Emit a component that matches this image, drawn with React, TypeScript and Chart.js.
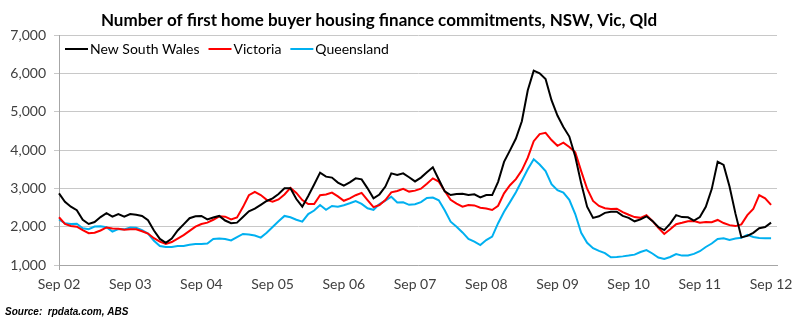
import { useEffect, useRef } from "react";
import { Chart, registerables } from "chart.js";

Chart.register(...registerables);

const chartTitle = "Number of first home buyer housing finance commitments, NSW, Vic, Qld";
const sourceNote = "Source:  rpdata.com, ABS";

const tickLabels = ["Sep 02", "Sep 03", "Sep 04", "Sep 05", "Sep 06", "Sep 07", "Sep 08", "Sep 09", "Sep 10", "Sep 11", "Sep 12"];
const monthNames = ["Jan", "Feb", "Mar", "Apr", "May", "Jun", "Jul", "Aug", "Sep", "Oct", "Nov", "Dec"];
const monthCount = 122; // Sep 02 .. Oct 12 (axis runs one month past the last value)

const seriesNames = ["New South Wales", "Victoria", "Queensland"];
const seriesColors = ["#000000", "#FF0000", "#00B0F0"];

const nsw = [
  2870, 2650, 2520, 2430, 2180, 2070, 2120, 2250, 2350, 2260, 2330, 2260,
  2330, 2310, 2280, 2170, 1900, 1680, 1580, 1690, 1900, 2060, 2220, 2270,
  2280, 2190, 2240, 2280, 2160, 2090, 2105, 2250, 2400, 2470, 2570, 2670,
  2740, 2850, 3000, 3000, 2720, 2520, 2800, 3100, 3410, 3305, 3280, 3150,
  3070, 3155, 3260, 3235, 3000, 2740, 2840, 3045, 3390, 3350, 3390, 3290,
  3180, 3280, 3420, 3550, 3230, 2920, 2825, 2850, 2860, 2825, 2845, 2765,
  2825, 2825, 3170, 3690, 3990, 4300, 4750, 5560, 6070, 6000, 5850, 5300,
  4900, 4600, 4350, 3830, 3130, 2520, 2230, 2270, 2360, 2390, 2390, 2280,
  2230, 2140, 2190, 2270, 2150, 1990, 1910, 2080, 2300, 2250, 2245, 2160,
  2250, 2520, 2980, 3695, 3610, 3045, 2340, 1720, 1760, 1840, 1960, 1990,
  2105,
];

const vic = [
  2245, 2070, 2020, 2000, 1910, 1830, 1840, 1900, 1980, 1950, 1945, 1920,
  1930, 1930, 1880, 1820, 1700, 1610, 1550, 1600, 1690, 1780, 1890, 2000,
  2070, 2105, 2180, 2270, 2260, 2190, 2240, 2510, 2820, 2910, 2825, 2700,
  2650, 2710, 2840, 3010, 2880, 2695, 2590, 2590, 2820, 2840, 2890, 2790,
  2675, 2740, 2820, 2880, 2695, 2510, 2565, 2695, 2895, 2930, 2985, 2915,
  2940, 2990, 3120, 3260, 3175, 2930, 2700, 2600, 2520, 2565, 2555, 2495,
  2475, 2435, 2545, 2870, 3080, 3240, 3470, 3800, 4230, 4415, 4450, 4260,
  4110, 4190, 4080, 3940, 3450, 2990, 2670, 2540, 2480, 2460, 2470, 2380,
  2310, 2250, 2230, 2300, 2150, 1970, 1810, 1930, 2065, 2100, 2140, 2150,
  2105, 2120, 2115, 2175, 2095, 2040, 2015, 2060, 2300, 2460, 2825, 2740,
  2570,
];

const qld = [
  2190, 2090, 2070, 2075, 1960, 1935, 2005, 2010, 1985, 1870, 1940, 1930,
  1980, 1970, 1910, 1820, 1630, 1495, 1470, 1470, 1495, 1495, 1530, 1550,
  1550, 1560, 1680, 1690, 1680, 1640, 1730, 1810, 1795, 1770, 1715, 1840,
  1990, 2140, 2280, 2245, 2180, 2130, 2330, 2420, 2565, 2440, 2540, 2520,
  2560, 2610, 2670, 2595, 2480, 2440, 2590, 2680, 2780, 2630, 2635, 2570,
  2585, 2640, 2750, 2760, 2690, 2430, 2130, 2000, 1850, 1680, 1610, 1520,
  1650, 1740, 2090, 2390, 2640, 2900, 3200, 3500, 3760, 3620, 3450, 3110,
  2950, 2890, 2700, 2330, 1840, 1580, 1440, 1370, 1310, 1200, 1210, 1225,
  1245, 1270, 1340, 1390, 1300, 1195, 1160, 1210, 1285, 1245, 1250, 1290,
  1360, 1470, 1560, 1680, 1695, 1650, 1690, 1710, 1785, 1730, 1705, 1695,
  1695,
];

const seriesValues = [nsw, vic, qld];

const FONT = "Lato, 'Open Sans', sans-serif";

function buildMonthLabels(): string[] {
  const out: string[] = [];
  for (let i = 0; i < monthCount; i++) {
    const m = (8 + i) % 12;
    const y = (2002 + Math.floor((8 + i) / 12)) % 100;
    out.push(monthNames[m] + " " + String(y).padStart(2, "0"));
  }
  return out;
}

const overlayPlugin = {
  id: "overlay",
  afterDraw(chart: any) {
    const c = chart.ctx as CanvasRenderingContext2D;
    c.save();
    c.fillStyle = "#000000";
    c.font = `bold 17px ${FONT}`;
    c.textAlign = "center";
    c.textBaseline = "alphabetic";
    c.fillText(chartTitle, 379, 26);

    c.font = `14px ${FONT}`;
    c.textAlign = "left";
    c.textBaseline = "middle";
    let x = 65;
    const y = 49;
    seriesNames.forEach((name, i) => {
      c.strokeStyle = seriesColors[i];
      c.lineWidth = 2;
      c.beginPath();
      c.moveTo(x, y);
      c.lineTo(x + 23, y);
      c.stroke();
      c.fillStyle = "#000000";
      c.fillText(name, x + 25, y);
      x += 25 + c.measureText(name).width + 9;
    });

    c.font = `italic bold 10px 'Liberation Sans', Arial, sans-serif`;
    c.textAlign = "left";
    c.textBaseline = "alphabetic";
    c.fillText(sourceNote, 5, 315);
    c.restore();
  },
};

export default function App() {
  const canvasRef = useRef<HTMLCanvasElement | null>(null);

  useEffect(() => {
    if (!canvasRef.current) return;
    const labels = buildMonthLabels();
    const chart = new Chart(canvasRef.current, {
      type: "line",
      data: {
        labels,
        datasets: seriesNames.map((name, i) => ({
          label: name,
          data: seriesValues[i],
          borderColor: seriesColors[i],
          backgroundColor: seriesColors[i],
          borderWidth: 2,
          pointRadius: 0,
          tension: 0,
          fill: false,
        })),
      },
      options: {
        responsive: false,
        animation: false,
        layout: { padding: { left: 0, right: 23, top: 35, bottom: 30 } },
        plugins: {
          legend: { display: false },
          title: { display: false },
          tooltip: { enabled: false },
        },
        scales: {
          x: {
            type: "category",
            offset: false,
            afterFit: (scale: any) => {
              scale.height = 30;
            },
            grid: {
              drawOnChartArea: false,
              drawTicks: true,
              tickLength: 5,
              color: (ctx: any) => (ctx.index % 12 === 0 ? "#a6a6a6" : "rgba(0,0,0,0)"),
            },
            border: { display: true, color: "#a6a6a6", width: 1 },
            ticks: {
              autoSkip: false,
              maxRotation: 0,
              minRotation: 0,
              padding: 6,
              color: "#404040",
              font: { family: FONT, size: 14 },
              callback: (_v: any, index: number) => (index % 12 === 0 ? tickLabels[index / 12] : null),
            },
          },
          y: {
            min: 1000,
            max: 7000,
            afterFit: (scale: any) => {
              scale.width = 59;
            },
            grid: { color: "#c8c8c8", tickLength: 5, lineWidth: 1 },
            border: { display: true, color: "#a6a6a6", width: 1 },
            ticks: {
              stepSize: 1000,
              padding: 8,
              color: "#404040",
              font: { family: FONT, size: 14 },
              callback: (v: any) => Number(v).toLocaleString("en-US"),
            },
          },
        },
      },
      plugins: [overlayPlugin],
    });
    return () => chart.destroy();
  }, []);

  return (
    <div style={{ position: "fixed", left: 0, top: 0, width: 800, height: 325, background: "#ffffff" }}>
      <canvas ref={canvasRef} width={800} height={325} style={{ width: 800, height: 325, display: "block" }} />
    </div>
  );
}
